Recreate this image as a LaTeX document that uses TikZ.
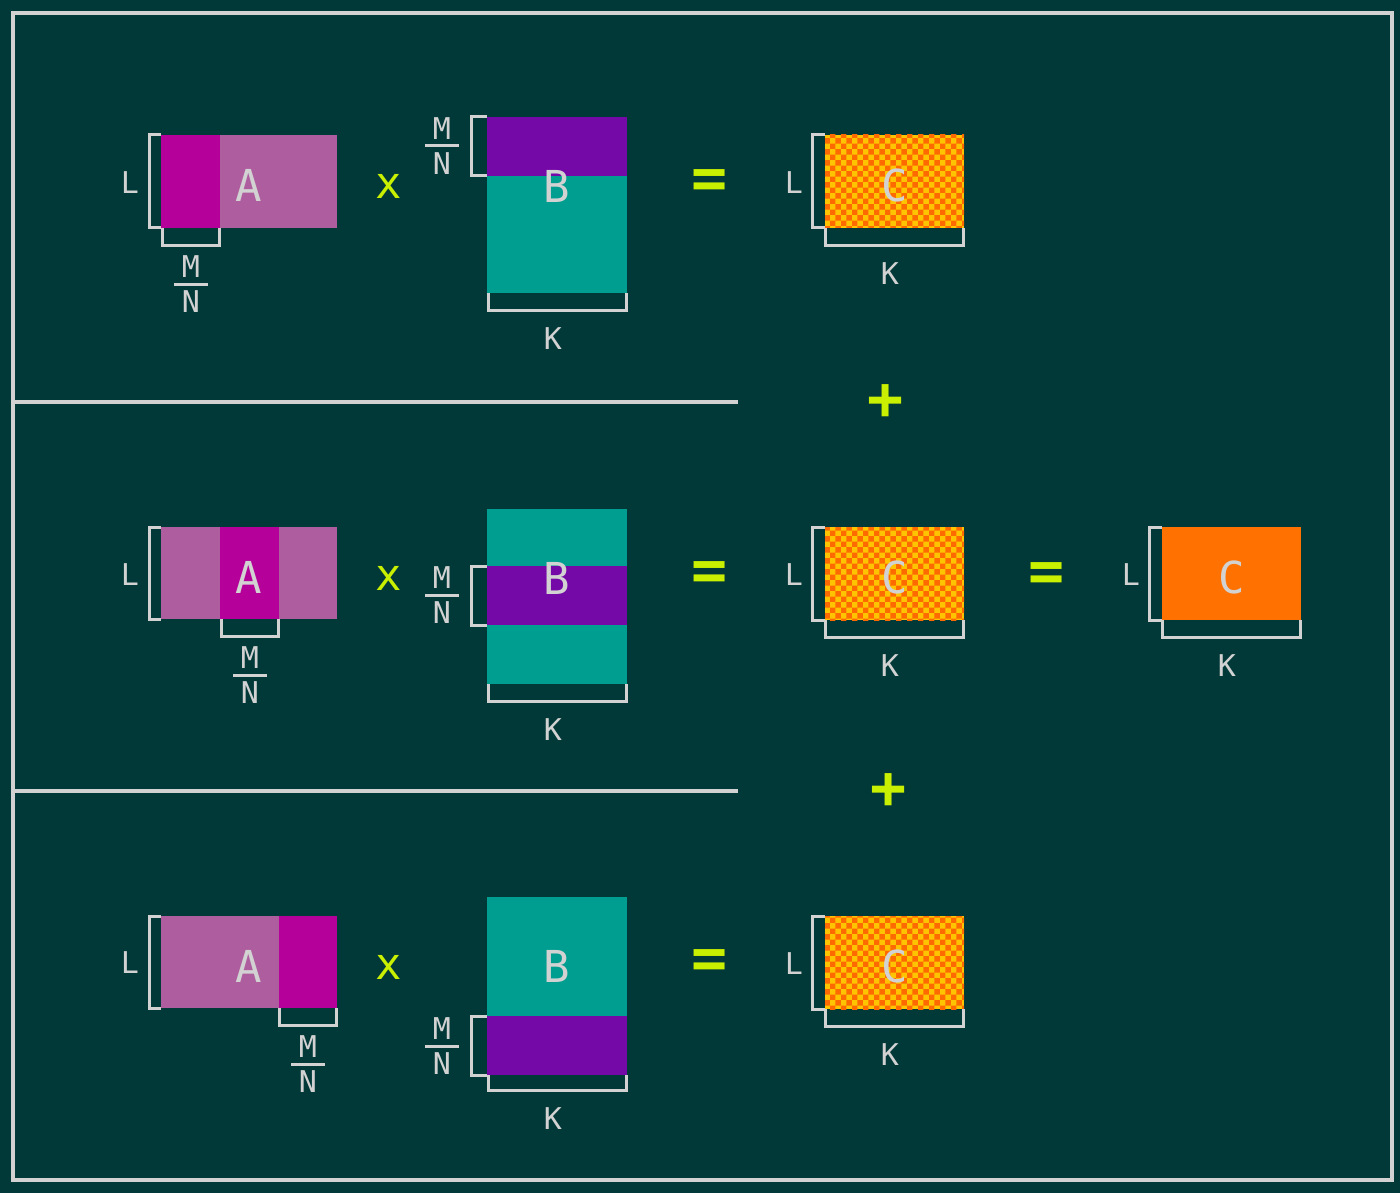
\documentclass[tikz,border=0pt]{standalone}
\usepackage{fontspec}
\setmonofont{DejaVu Sans Mono}
\usetikzlibrary{patterns}
\definecolor{bg}{HTML}{013838}
\definecolor{fg}{HTML}{D2D2D2}
\definecolor{magd}{HTML}{B6009A}
\definecolor{magl}{HTML}{AE5E9E}
\definecolor{purp}{HTML}{7409A8}
\definecolor{teal}{HTML}{009E90}
\definecolor{orng}{HTML}{FF7100}
\definecolor{lime}{HTML}{C8F000}
\definecolor{chkA}{HTML}{FFC400}
\definecolor{chkB}{HTML}{FF6A00}
\newcommand\lblfont{\ttfamily\fontsize{30}{30}\selectfont}
\newcommand\bigfont{\ttfamily\fontsize{44}{44}\selectfont}
\newcommand\opfont{\ttfamily\bfseries\fontsize{60}{60}\selectfont}
\newcommand\xfont{\ttfamily\fontsize{44}{44}\selectfont}
\tikzset{
  lbl/.style={text=fg, font=\lblfont, inner sep=0pt},
  bigl/.style={text=fg, font=\bigfont, inner sep=0pt},
  opsym/.style={text=lime, font=\opfont, inner sep=0pt},
  xsym/.style={text=lime, font=\xfont, inner sep=0pt},
  brk/.style={draw=fg, line width=3pt},
  frm/.style={draw=fg, line width=4.5pt},
  chk/.style={fill=chkA, postaction={pattern=checkerboard, pattern color=chkB}},
}
% M/N fraction: name, x, y of bar
\newcommand\mnfrac[3]{%
  \node[lbl] (#1m) at (#2,#3-17) {M};
  \draw[brk] (#2-17,#3) -- (#2+17,#3);
  \node[lbl] (#1n) at (#2,#3+18) {N};
}
% C block: name, left x, top y, style
\newcommand\cblock[4]{%
  \path[#4] (#2,#3) rectangle (#2+139,#3+93);
  \draw[brk] (#2,#3) -- (#2-13,#3) -- (#2-13,#3+93) -- (#2,#3+93);
  \draw[brk] (#2,#3+93) -- (#2,#3+110) -- (#2+138,#3+110) -- (#2+138,#3+93);
  \node[lbl] (#1L) at (#2-31,#3+48) {L};
  \node[bigl] (#1C) at (#2+70,#3+50) {C};
  \node[lbl] (#1K) at (#2+65,#3+139) {K};
}
\begin{document}
\begin{tikzpicture}[x=1pt,y=-1pt]
\useasboundingbox (0,0) rectangle (1400,1193);
\fill[bg] (0,0) rectangle (1400,1193);
% frame and separators
\draw[frm] (13,13) rectangle (1392,1180);
\draw[frm] (13,402) -- (738,402);
\draw[frm] (13,791) -- (738,791);

% ---------- Row 1 ----------
\fill[magl] (161,135) rectangle (337,228);
\fill[magd] (161,135) rectangle (220,228);
\draw[brk] (161,135) -- (149,135) -- (149,228) -- (161,228);
\draw[brk] (162,228) -- (162,245) -- (219,245) -- (219,228);
\node[lbl] (aL1) at (130,183) {L};
\node[bigl] (aA1) at (249,185) {A};
\mnfrac{af1}{191}{284}
\node[xsym] (x1) at (389,186) {x};

\fill[teal] (487,117) rectangle (627,293);
\fill[purp] (487,117) rectangle (627,176);
\draw[brk] (487,117) -- (471,117) -- (471,176) -- (487,176);
\draw[brk] (488,293) -- (488,310) -- (626,310) -- (626,293);
\mnfrac{bf1}{442}{146}
\node[bigl] (bB1) at (557,186) {B};
\node[lbl] (bK1) at (553,339) {K};

\node[opsym] (eq1) at (710,184) {=};
\cblock{c1}{825}{135}{chk}
\node[opsym] (pl1) at (886,402) {+};

% ---------- Row 2 ----------
\fill[magl] (161,527) rectangle (337,619);
\fill[magd] (220,527) rectangle (279,619);
\draw[brk] (161,527) -- (149,527) -- (149,619) -- (161,619);
\draw[brk] (221,619) -- (221,636) -- (278,636) -- (278,619);
\node[lbl] (aL2) at (130,575) {L};
\node[bigl] (aA2) at (249,577) {A};
\mnfrac{af2}{250}{675}
\node[xsym] (x2) at (389,578) {x};

\fill[teal] (487,509) rectangle (627,684);
\fill[purp] (487,566) rectangle (627,625);
\draw[brk] (487,566) -- (471,566) -- (471,625) -- (487,625);
\draw[brk] (488,684) -- (488,701) -- (626,701) -- (626,684);
\mnfrac{bf2}{442}{595}
\node[bigl] (bB2) at (557,578) {B};
\node[lbl] (bK2) at (553,730) {K};

\node[opsym] (eq2) at (710,576) {=};
\cblock{c2}{825}{527}{chk}
\node[opsym] (eq3) at (1047,577) {=};
\cblock{c4}{1162}{527}{fill=orng}
\node[opsym] (pl2) at (889,791) {+};

% ---------- Row 3 ----------
\fill[magl] (161,916) rectangle (337,1008);
\fill[magd] (279,916) rectangle (337,1008);
\draw[brk] (161,916) -- (149,916) -- (149,1008) -- (161,1008);
\draw[brk] (279,1008) -- (279,1025) -- (336,1025) -- (336,1008);
\node[lbl] (aL3) at (130,963) {L};
\node[bigl] (aA3) at (249,966) {A};
\mnfrac{af3}{308}{1064}
\node[xsym] (x3) at (389,967) {x};

\fill[teal] (487,897) rectangle (627,1075);
\fill[purp] (487,1016) rectangle (627,1075);
\draw[brk] (487,1016) -- (471,1016) -- (471,1075) -- (487,1075);
\draw[brk] (488,1075) -- (488,1090) -- (626,1090) -- (626,1075);
\mnfrac{bf3}{442}{1046}
\node[bigl] (bB3) at (557,966) {B};
\node[lbl] (bK3) at (553,1119) {K};

\node[opsym] (eq4) at (710,964) {=};
\cblock{c3}{825}{916}{chk}
\end{tikzpicture}
\end{document}
